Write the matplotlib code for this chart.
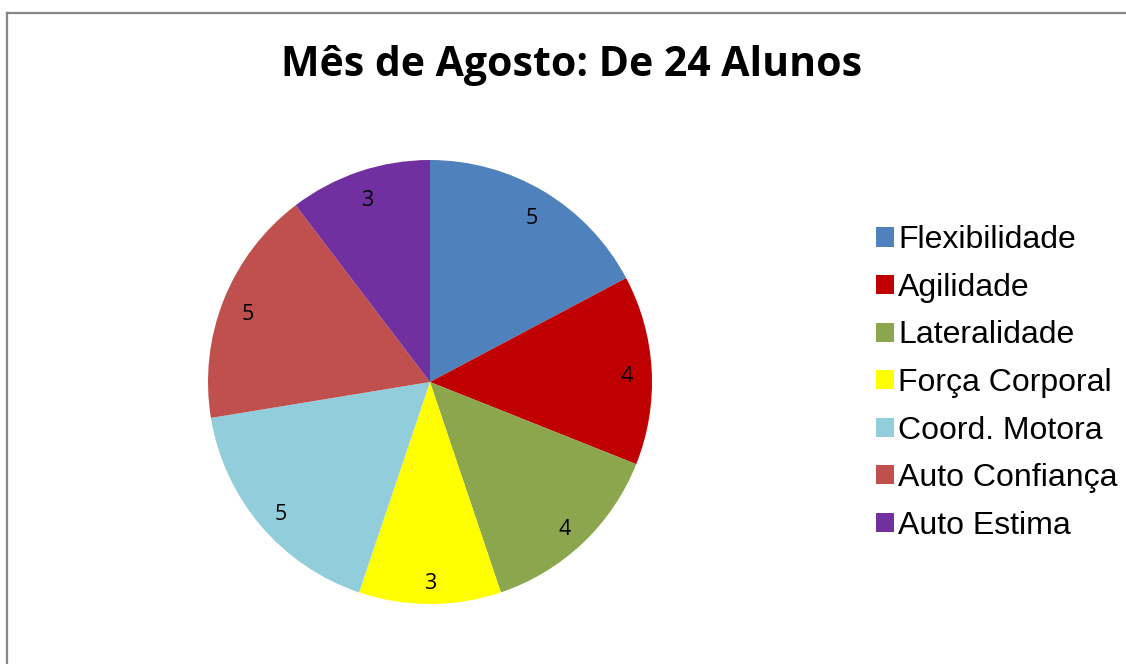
import matplotlib
matplotlib.use("Agg")
import matplotlib.pyplot as plt
import matplotlib.transforms as mtransforms
from matplotlib.patches import Rectangle
from matplotlib.lines import Line2D

title = "Mês de Agosto: De 24 Alunos"
categories = ["Flexibilidade", "Agilidade", "Lateralidade", "Força Corporal",
              "Coord. Motora", "Auto Confiança", "Auto Estima"]
values = [5, 4, 4, 3, 5, 5, 3]
colors = ["#4F81BD", "#C00000", "#8BA64D", "#FFFF00", "#92CDDC", "#C0504D", "#7030A0"]

W, H = 1126, 664
fig = plt.figure(figsize=(W / 100, H / 100), dpi=100)
fig.patch.set_facecolor("white")

# partial frame (top and left visible)
fig.add_artist(Line2D([6.5 / W, 6.5 / W], [0, 1 - 12.5 / H], transform=fig.transFigure,
                      color="#868686", lw=1.6))
fig.add_artist(Line2D([6.5 / W, 1], [1 - 12.5 / H, 1 - 12.5 / H], transform=fig.transFigure,
                      color="#868686", lw=1.6))

cx, cy, r = 430, 382, 222
ax = fig.add_axes([(cx - r) / W, (H - cy - r) / H, 2 * r / W, 2 * r / H])
total = sum(values)
wedges, texts, autotexts = ax.pie(
    values, colors=colors, startangle=90, counterclock=False,
    autopct=lambda p: f"{round(p * total / 100):d}", pctdistance=0.885,
    radius=1, wedgeprops=dict(linewidth=0),
    textprops=dict(fontsize=15.5, family="Open Sans", color="black"))
shift = mtransforms.ScaledTranslation(0, -5 / 100, fig.dpi_scale_trans)
for t in autotexts:
    t.set_transform(t.get_transform() + shift)
ax.set_xlim(-1, 1)
ax.set_ylim(-1, 1)
ax.set_aspect("equal")
ax.axis("off")

fig.text(572 / W, 1 - 66 / H, title, ha="center", va="center",
         fontsize=29.5, fontweight="bold", family="Open Sans")

handles = [Rectangle((0, 0), 1, 1, facecolor=c, edgecolor="none") for c in colors]
fig.legend(handles, categories, loc="center left",
           bbox_to_anchor=(876 / W, 1 - 383 / H), frameon=False,
           prop=dict(family="Liberation Sans", size=23),
           handlelength=0.55, handleheight=0.55, handletextpad=0.15,
           labelspacing=0.55, borderpad=0, borderaxespad=0)

fig.savefig("out.png", dpi=100)
